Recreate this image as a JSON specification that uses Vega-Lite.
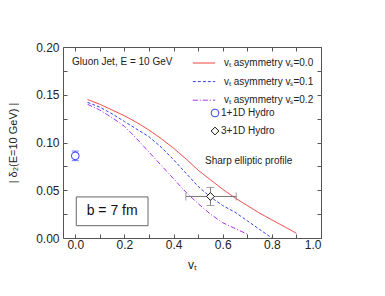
{
  "$schema": "https://vega.github.io/schema/vega-lite/v6.json",
  "width": 258,
  "height": 191,
  "autosize": {"type": "none"},
  "padding": {"left": 63, "top": 47, "right": 64, "bottom": 58},
  "background": "white",
  "config": {
    "font": "Liberation Sans",
    "view": {"stroke": null},
    "axis": {
      "grid": false,
      "domainColor": "#555555",
      "tickColor": "#555555",
      "tickSize": -4,
      "labelColor": "#222222",
      "labelFontSize": 12,
      "titleFontWeight": "normal",
      "titleColor": "#222222"
    },
    "legend": {"orient": "none", "labelFontSize": 10, "labelColor": "#222222", "padding": 0}
  },
  "datasets": {
    "curves": [
      {"series": "vₜ asymmetry vₛ=0.0", "v": 0.05, "d": 0.145},
      {"series": "vₜ asymmetry vₛ=0.0", "v": 0.1, "d": 0.140},
      {"series": "vₜ asymmetry vₛ=0.0", "v": 0.15, "d": 0.134},
      {"series": "vₜ asymmetry vₛ=0.0", "v": 0.2, "d": 0.128},
      {"series": "vₜ asymmetry vₛ=0.0", "v": 0.25, "d": 0.121},
      {"series": "vₜ asymmetry vₛ=0.0", "v": 0.3, "d": 0.113},
      {"series": "vₜ asymmetry vₛ=0.0", "v": 0.35, "d": 0.104},
      {"series": "vₜ asymmetry vₛ=0.0", "v": 0.4, "d": 0.094},
      {"series": "vₜ asymmetry vₛ=0.0", "v": 0.45, "d": 0.083},
      {"series": "vₜ asymmetry vₛ=0.0", "v": 0.5, "d": 0.071},
      {"series": "vₜ asymmetry vₛ=0.0", "v": 0.55, "d": 0.061},
      {"series": "vₜ asymmetry vₛ=0.0", "v": 0.6, "d": 0.051},
      {"series": "vₜ asymmetry vₛ=0.0", "v": 0.65, "d": 0.042},
      {"series": "vₜ asymmetry vₛ=0.0", "v": 0.7, "d": 0.034},
      {"series": "vₜ asymmetry vₛ=0.0", "v": 0.75, "d": 0.026},
      {"series": "vₜ asymmetry vₛ=0.0", "v": 0.8, "d": 0.019},
      {"series": "vₜ asymmetry vₛ=0.0", "v": 0.85, "d": 0.012},
      {"series": "vₜ asymmetry vₛ=0.0", "v": 0.9, "d": 0.005},
      {"series": "vₜ asymmetry vₛ=0.1", "v": 0.05, "d": 0.142},
      {"series": "vₜ asymmetry vₛ=0.1", "v": 0.1, "d": 0.137},
      {"series": "vₜ asymmetry vₛ=0.1", "v": 0.15, "d": 0.130},
      {"series": "vₜ asymmetry vₛ=0.1", "v": 0.2, "d": 0.122},
      {"series": "vₜ asymmetry vₛ=0.1", "v": 0.25, "d": 0.114},
      {"series": "vₜ asymmetry vₛ=0.1", "v": 0.3, "d": 0.106},
      {"series": "vₜ asymmetry vₛ=0.1", "v": 0.35, "d": 0.095},
      {"series": "vₜ asymmetry vₛ=0.1", "v": 0.4, "d": 0.082},
      {"series": "vₜ asymmetry vₛ=0.1", "v": 0.45, "d": 0.068},
      {"series": "vₜ asymmetry vₛ=0.1", "v": 0.5, "d": 0.054},
      {"series": "vₜ asymmetry vₛ=0.1", "v": 0.55, "d": 0.043},
      {"series": "vₜ asymmetry vₛ=0.1", "v": 0.6, "d": 0.034},
      {"series": "vₜ asymmetry vₛ=0.1", "v": 0.65, "d": 0.027},
      {"series": "vₜ asymmetry vₛ=0.1", "v": 0.7, "d": 0.018},
      {"series": "vₜ asymmetry vₛ=0.1", "v": 0.75, "d": 0.009},
      {"series": "vₜ asymmetry vₛ=0.1", "v": 0.8, "d": 0.0},
      {"series": "vₜ asymmetry vₛ=0.2", "v": 0.05, "d": 0.140},
      {"series": "vₜ asymmetry vₛ=0.2", "v": 0.1, "d": 0.134},
      {"series": "vₜ asymmetry vₛ=0.2", "v": 0.15, "d": 0.126},
      {"series": "vₜ asymmetry vₛ=0.2", "v": 0.2, "d": 0.117},
      {"series": "vₜ asymmetry vₛ=0.2", "v": 0.25, "d": 0.104},
      {"series": "vₜ asymmetry vₛ=0.2", "v": 0.3, "d": 0.090},
      {"series": "vₜ asymmetry vₛ=0.2", "v": 0.35, "d": 0.076},
      {"series": "vₜ asymmetry vₛ=0.2", "v": 0.4, "d": 0.062},
      {"series": "vₜ asymmetry vₛ=0.2", "v": 0.45, "d": 0.048},
      {"series": "vₜ asymmetry vₛ=0.2", "v": 0.5, "d": 0.036},
      {"series": "vₜ asymmetry vₛ=0.2", "v": 0.55, "d": 0.025},
      {"series": "vₜ asymmetry vₛ=0.2", "v": 0.6, "d": 0.016},
      {"series": "vₜ asymmetry vₛ=0.2", "v": 0.65, "d": 0.010},
      {"series": "vₜ asymmetry vₛ=0.2", "v": 0.7, "d": 0.004}
    ],
    "hydro": [
      {"name": "1+1D Hydro", "v": 0.0, "d": 0.086, "vlo": 0.0, "vhi": 0.0, "dlo": 0.081, "dhi": 0.091},
      {"name": "3+1D Hydro", "v": 0.55, "d": 0.0435, "vlo": 0.45, "vhi": 0.655, "dlo": 0.034, "dhi": 0.053}
    ],
    "notes": [
      {"label": "Gluon Jet, E = 10 GeV", "v": -0.013, "d": 0.184},
      {"label": "Sharp elliptic profile", "v": 0.528, "d": 0.081}
    ],
    "box": [
      {"label": "b = 7 fm", "v0": 0.004, "v1": 0.296, "d0": 0.0129, "d1": 0.043, "v": 0.15, "d": 0.0278}
    ]
  },
  "resolve": {"scale": {"color": "independent", "shape": "independent", "strokeDash": "independent"}, "axis": {"x": "independent", "y": "independent"}},
  "layer": [
    {
      "data": {"name": "curves"},
      "mark": {"type": "line", "strokeWidth": 1},
      "encoding": {
        "x": {"field": "v", "type": "quantitative", "scale": {"domain": [-0.05, 1.0], "nice": false, "zero": false},
          "axis": {"orient": "bottom", "values": [0, 0.1, 0.2, 0.3, 0.4, 0.5, 0.6, 0.7, 0.8, 0.9, 1.0],
            "labelExpr": "round(datum.value*10)%2==0 ? format(datum.value,'.1f') : ''",
            "labelPadding": 5, "title": "vₜ", "titleFontSize": 12, "titlePadding": 9}},
        "y": {"field": "d", "type": "quantitative", "scale": {"domain": [0, 0.2], "nice": false},
          "axis": {"orient": "left", "values": [0, 0.025, 0.05, 0.075, 0.1, 0.125, 0.15, 0.175, 0.2],
            "labelExpr": "round(datum.value*40)%2==0 ? format(datum.value,'.2f') : ''",
            "labelPadding": 8, "title": "| δ₂(E=10 GeV) |", "titleFontSize": 11, "titlePadding": 17}},
        "color": {"field": "series", "type": "nominal",
          "scale": {"domain": ["vₜ asymmetry vₛ=0.0", "vₜ asymmetry vₛ=0.1", "vₜ asymmetry vₛ=0.2"], "range": ["#ee3333", "#3344ee", "#aa33ee"]},
          "legend": {"title": null, "legendX": 129, "legendY": 4, "rowPadding": 1.6, "symbolType": "stroke", "symbolSize": 500, "symbolStrokeWidth": 1, "labelOffset": 8}},
        "strokeDash": {"field": "series", "type": "nominal",
          "scale": {"domain": ["vₜ asymmetry vₛ=0.0", "vₜ asymmetry vₛ=0.1", "vₜ asymmetry vₛ=0.2"], "range": [[1, 0], [3, 2], [5, 2, 1, 2]]},
          "legend": {"title": null, "legendX": 129, "legendY": 4, "rowPadding": 1.6, "symbolType": "stroke", "symbolSize": 500, "symbolStrokeWidth": 1, "labelOffset": 8}}
      }
    },
    {
      "data": {"name": "hydro"},
      "transform": [{"filter": "datum.name == '1+1D Hydro'"}],
      "mark": {"type": "rule", "color": "#3344ee", "strokeWidth": 1},
      "encoding": {
        "x": {"field": "v", "type": "quantitative", "axis": null},
        "y": {"field": "dlo", "type": "quantitative", "axis": null},
        "y2": {"field": "dhi"}
      }
    },
    {
      "data": {"name": "hydro"},
      "transform": [{"filter": "datum.name == '1+1D Hydro'"}, {"fold": ["dlo", "dhi"], "as": ["k", "cap"]}],
      "mark": {"type": "tick", "orient": "horizontal", "color": "#3344ee", "size": 7, "thickness": 1},
      "encoding": {
        "x": {"field": "v", "type": "quantitative", "axis": null},
        "y": {"field": "cap", "type": "quantitative", "axis": null}
      }
    },
    {
      "data": {"name": "hydro"},
      "transform": [{"filter": "datum.name == '3+1D Hydro'"}],
      "mark": {"type": "rule", "color": "#777777", "strokeWidth": 1},
      "encoding": {
        "x": {"field": "v", "type": "quantitative", "axis": null},
        "y": {"field": "dlo", "type": "quantitative", "axis": null},
        "y2": {"field": "dhi"}
      }
    },
    {
      "data": {"name": "hydro"},
      "transform": [{"filter": "datum.name == '3+1D Hydro'"}],
      "mark": {"type": "rule", "color": "#777777", "strokeWidth": 1},
      "encoding": {
        "x": {"field": "vlo", "type": "quantitative", "axis": null},
        "x2": {"field": "vhi"},
        "y": {"field": "d", "type": "quantitative", "axis": null}
      }
    },
    {
      "data": {"name": "hydro"},
      "transform": [{"filter": "datum.name == '3+1D Hydro'"}, {"fold": ["dlo", "dhi"], "as": ["k", "cap"]}],
      "mark": {"type": "tick", "orient": "horizontal", "color": "#777777", "size": 8, "thickness": 1},
      "encoding": {
        "x": {"field": "v", "type": "quantitative", "axis": null},
        "y": {"field": "cap", "type": "quantitative", "axis": null}
      }
    },
    {
      "data": {"name": "hydro"},
      "transform": [{"filter": "datum.name == '3+1D Hydro'"}, {"fold": ["vlo", "vhi"], "as": ["k", "cap"]}],
      "mark": {"type": "tick", "orient": "vertical", "color": "#777777", "size": 8, "thickness": 1},
      "encoding": {
        "x": {"field": "cap", "type": "quantitative", "axis": null},
        "y": {"field": "d", "type": "quantitative", "axis": null}
      }
    },
    {
      "data": {"name": "hydro"},
      "mark": {"type": "point", "filled": false, "fill": "white", "fillOpacity": 1, "strokeWidth": 1, "opacity": 1},
      "encoding": {
        "x": {"field": "v", "type": "quantitative", "axis": null},
        "y": {"field": "d", "type": "quantitative", "axis": null},
        "color": {"field": "name", "type": "nominal",
          "scale": {"domain": ["1+1D Hydro", "3+1D Hydro"], "range": ["#3344ee", "#111111"]},
          "legend": {"title": null, "legendX": 147, "legendY": 61, "rowPadding": 6, "labelOffset": 1, "symbolSize": 60, "symbolStrokeWidth": 1, "symbolFillColor": "white"}},
        "shape": {"field": "name", "type": "nominal",
          "scale": {"domain": ["1+1D Hydro", "3+1D Hydro"], "range": ["circle", "diamond"]},
          "legend": {"title": null, "legendX": 147, "legendY": 61, "rowPadding": 6, "labelOffset": 1, "symbolSize": 60, "symbolStrokeWidth": 1, "symbolFillColor": "white"}},
        "size": {"value": 60}
      }
    },
    {
      "data": {"name": "box"},
      "mark": {"type": "rect", "fill": null, "fillOpacity": 0, "stroke": "#666666", "strokeWidth": 1},
      "encoding": {
        "x": {"field": "v0", "type": "quantitative", "axis": null},
        "x2": {"field": "v1"},
        "y": {"field": "d0", "type": "quantitative", "axis": null},
        "y2": {"field": "d1"}
      }
    },
    {
      "data": {"name": "box"},
      "mark": {"type": "text", "fontSize": 14, "align": "center", "baseline": "middle", "color": "#111111"},
      "encoding": {
        "x": {"field": "v", "type": "quantitative", "axis": null},
        "y": {"field": "d", "type": "quantitative", "axis": null},
        "text": {"field": "label"}
      }
    },
    {
      "data": {"name": "notes"},
      "mark": {"type": "text", "fontSize": 10, "align": "left", "baseline": "middle", "color": "#222222"},
      "encoding": {
        "x": {"field": "v", "type": "quantitative",
          "axis": {"orient": "top", "values": [0, 0.1, 0.2, 0.3, 0.4, 0.5, 0.6, 0.7, 0.8, 0.9, 1.0], "labels": false, "title": null}},
        "y": {"field": "d", "type": "quantitative",
          "axis": {"orient": "right", "values": [0, 0.025, 0.05, 0.075, 0.1, 0.125, 0.15, 0.175, 0.2], "labels": false, "title": null}},
        "text": {"field": "label"}
      }
    }
  ]
}
